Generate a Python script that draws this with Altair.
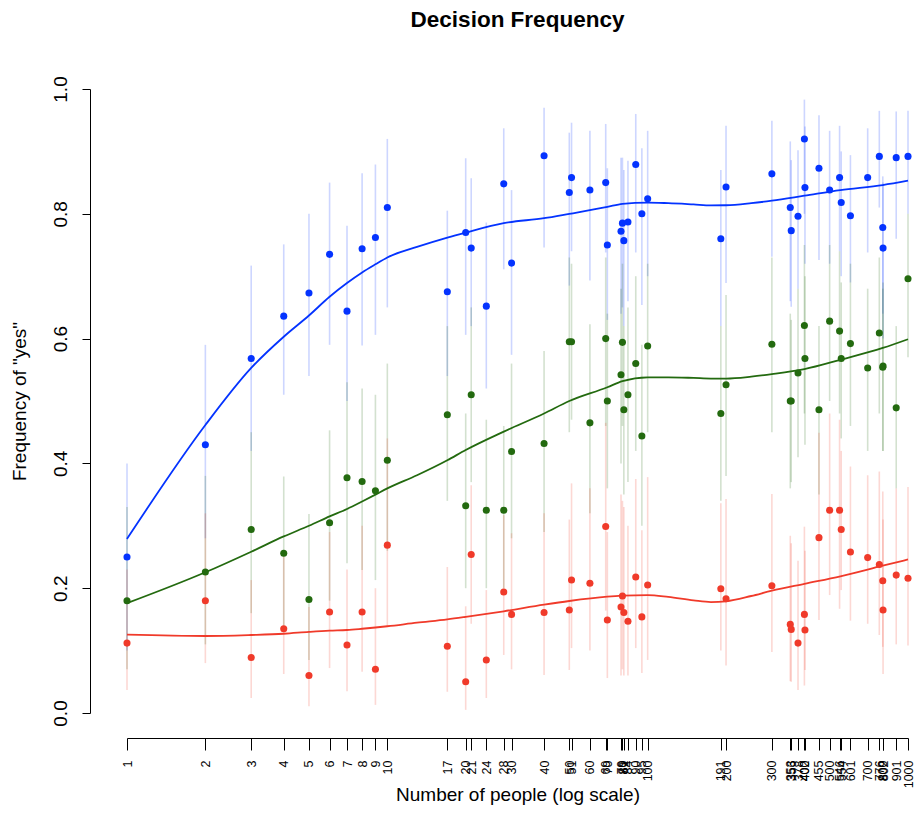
import altair as alt
import pandas as pd

# x values (number of people)
people = [1, 2, 3, 4, 5, 6, 7, 8, 9, 10,
          17, 20, 21, 24, 28, 30, 40,
          50, 51, 60, 69, 70,
          79, 80, 81, 84, 90, 95, 100,
          191, 200, 300,
          353, 356, 378, 400, 402,
          455, 500, 546, 554, 601,
          700, 776, 800, 802, 901, 1000]

blue_y = [0.25, 0.43, 0.568, 0.636, 0.673, 0.735, 0.644, 0.744, 0.762, 0.81,
          0.675, 0.770, 0.745, 0.652, 0.848, 0.721, 0.893,
          0.834, 0.858, 0.838, 0.850, 0.750,
          0.772, 0.785, 0.757, 0.787, 0.879, 0.800, 0.824,
          0.760, 0.843, 0.864,
          0.810, 0.773, 0.796, 0.920, 0.842,
          0.873, 0.838, 0.858, 0.818, 0.797,
          0.858, 0.892, 0.778, 0.745, 0.890, 0.892]
blue_lo = [0.10, 0.28, 0.42, 0.51, 0.54, 0.59, 0.50, 0.589, 0.606, 0.65,
           0.54, 0.606, 0.62, 0.52, 0.711, 0.574, 0.746,
           0.685, 0.74, 0.693, 0.738, 0.63,
           0.64, 0.65, 0.62, 0.66, 0.738, 0.654, 0.70,
           0.62, 0.689, 0.731,
           0.66, 0.651, 0.68, 0.80, 0.72,
           0.726, 0.72, 0.74, 0.70, 0.69,
           0.738, 0.81, 0.64, 0.60, 0.76, 0.80]
blue_hi = [0.40, 0.59, 0.717, 0.751, 0.80, 0.85, 0.781, 0.865, 0.879, 0.92,
           0.805, 0.889, 0.857, 0.786, 0.937, 0.838, 0.970,
           0.93, 0.946, 0.933, 0.944, 0.873,
           0.89, 0.89, 0.87, 0.885, 0.96, 0.905, 0.933,
           0.870, 0.941, 0.949,
           0.916, 0.886, 0.902, 0.983, 0.94,
           0.958, 0.933, 0.941, 0.90, 0.894,
           0.937, 0.965, 0.86, 0.85, 0.964, 0.965]

green_y = [0.18, 0.226, 0.294, 0.256, 0.182, 0.305, 0.377, 0.371, 0.356, 0.405,
           0.478, 0.332, 0.51, 0.325, 0.325, 0.419, 0.432,
           0.595, 0.595, 0.465, 0.600, 0.500,
           0.542, 0.594, 0.486, 0.510, 0.560, 0.444, 0.588,
           0.480, 0.526, 0.591,
           0.500, 0.500, 0.545, 0.621, 0.568,
           0.486, 0.628, 0.612, 0.568, 0.592,
           0.553, 0.609, 0.554, 0.556, 0.489, 0.696]
green_lo = [0.07, 0.11, 0.16, 0.14, 0.085, 0.18, 0.24, 0.229, 0.213, 0.26,
            0.34, 0.20, 0.37, 0.20, 0.20, 0.28, 0.29,
            0.45, 0.47, 0.32, 0.46, 0.36,
            0.40, 0.46, 0.35, 0.37, 0.42, 0.30, 0.45,
            0.34, 0.38, 0.45,
            0.36, 0.37, 0.41, 0.48, 0.43,
            0.35, 0.50, 0.48, 0.44, 0.46,
            0.42, 0.48, 0.42, 0.42, 0.36, 0.57]
green_hi = [0.33, 0.38, 0.45, 0.379, 0.319, 0.453, 0.53, 0.52, 0.51, 0.56,
            0.62, 0.48, 0.65, 0.47, 0.46, 0.56, 0.58,
            0.73, 0.72, 0.623, 0.73, 0.64,
            0.68, 0.72, 0.62, 0.65, 0.70, 0.59, 0.72,
            0.62, 0.67, 0.73,
            0.64, 0.63, 0.68, 0.75, 0.70,
            0.62, 0.75, 0.74, 0.69, 0.72,
            0.68, 0.73, 0.68, 0.69, 0.62, 0.80]

red_y = [0.112, 0.180, 0.089, 0.135, 0.060, 0.162, 0.109, 0.162, 0.070, 0.269,
         0.107, 0.05, 0.254, 0.085, 0.194, 0.158, 0.161,
         0.165, 0.213, 0.208, 0.299, 0.149,
         0.170, 0.1875, 0.161, 0.147, 0.218, 0.154, 0.205,
         0.199, 0.183, 0.204,
         0.142, 0.134, 0.112, 0.158, 0.133,
         0.281, 0.325, 0.325, 0.294, 0.258,
         0.249, 0.238, 0.212, 0.165, 0.221, 0.216]
red_lo = [0.037, 0.08, 0.024, 0.0625, 0.011, 0.072, 0.035, 0.066, 0.013, 0.138,
          0.034, 0.005, 0.143, 0.024, 0.093, 0.07, 0.061,
          0.069, 0.104, 0.10, 0.164, 0.056,
          0.06, 0.07, 0.06, 0.06, 0.104, 0.064, 0.085,
          0.10, 0.076, 0.0977,
          0.051, 0.05, 0.037, 0.044, 0.069,
          0.149, 0.189, 0.167, 0.197, 0.148,
          0.143, 0.125, 0.106, 0.0625, 0.11, 0.108]
red_hi = [0.23, 0.32, 0.213, 0.26, 0.17, 0.29, 0.23, 0.30, 0.20, 0.44,
          0.234, 0.171, 0.365, 0.197, 0.317, 0.288, 0.32,
          0.31, 0.368, 0.36, 0.465, 0.29,
          0.35, 0.34, 0.33, 0.30, 0.375, 0.293, 0.378,
          0.336, 0.343, 0.351,
          0.284, 0.272, 0.244, 0.2986, 0.26,
          0.449, 0.48, 0.47, 0.42, 0.395,
          0.381, 0.387, 0.355, 0.31, 0.36, 0.362]

# smoothed curves
fit_x = [1, 2, 3, 4, 5, 6, 7, 8, 9, 10, 13, 17, 20, 28, 40, 50, 70, 80, 100,
         120, 150, 175, 200, 250, 300, 400, 550, 800, 1000]
blue_fit = [0.279, 0.4615, 0.553, 0.603, 0.637, 0.667, 0.689, 0.706, 0.719, 0.730,
            0.747, 0.762, 0.770, 0.785, 0.793, 0.800, 0.811, 0.816, 0.818,
            0.817, 0.815, 0.8135, 0.8137, 0.817, 0.821, 0.829, 0.838, 0.846, 0.853]
green_fit = [0.176, 0.2255, 0.2585, 0.283, 0.300, 0.315, 0.327, 0.339, 0.350, 0.360,
             0.381, 0.405, 0.4215, 0.451, 0.480, 0.500, 0.522, 0.532, 0.538,
             0.538, 0.537, 0.536, 0.536, 0.539, 0.543, 0.551, 0.566, 0.585, 0.599]
red_fit = [0.1255, 0.1234, 0.125, 0.127, 0.130, 0.132, 0.133, 0.135, 0.137, 0.139,
           0.1447, 0.150, 0.154, 0.163, 0.1736, 0.1795, 0.1864, 0.188, 0.189,
           0.186, 0.1805, 0.1778, 0.179, 0.1875, 0.196, 0.207, 0.219, 0.236, 0.246]

series = ["blue", "green", "red"]
colors = ["#0433FF", "#236a0f", "#f03a2a"]

rows = []
for name, ys, lo, hi in [("blue", blue_y, blue_lo, blue_hi),
                         ("green", green_y, green_lo, green_hi),
                         ("red", red_y, red_lo, red_hi)]:
    for x, y, l, h in zip(people, ys, lo, hi):
        rows.append({"people": x, "series": name, "freq": y, "lo": l, "hi": h})
pts = pd.DataFrame(rows)

frows = []
for name, vals in [("blue", blue_fit), ("green", green_fit), ("red", red_fit)]:
    for x, v in zip(fit_x, vals):
        frows.append({"people": x, "series": name, "freq": v})
fits = pd.DataFrame(frows)

FONT = "Liberation Sans"
xscale = alt.Scale(type="log", domain=[1, 1000], nice=False)
yscale = alt.Scale(domain=[0, 1], nice=False, zero=False)
color = alt.Color("series:N", scale=alt.Scale(domain=series, range=colors), legend=None)

xaxis = alt.Axis(values=people, format="d", labelAngle=270, labelAlign="right",
                 labelBaseline="middle", labelOverlap=False, labelBound=False,
                 labelFlush=False, offset=25, tickSize=12, labelPadding=10,
                 labelFontSize=12.5, grid=False,
                 title="Number of people (log scale)", titleY=62,
                 titleBaseline="alphabetic", titleFontSize=19,
                 titleFontWeight="normal")
yaxis = alt.Axis(values=[0, 0.2, 0.4, 0.6, 0.8, 1.0], format=".1f", labelAngle=270,
                 labelAlign="center", labelBaseline="bottom", labelOverlap=False,
                 labelFlush=False, offset=37, tickSize=8, labelPadding=12,
                 labelFontSize=19, grid=False,
                 title='Frequency of "yes"', titleAngle=270, titleX=-65, titleY=312,
                 titleAlign="center", titleBaseline="alphabetic", titleFontSize=19,
                 titleFontWeight="normal")

rules = alt.Chart(pts).mark_rule(strokeWidth=1.6, opacity=0.2).encode(
    x=alt.X("people:Q", scale=xscale, axis=xaxis),
    y=alt.Y("lo:Q", scale=yscale, axis=yaxis),
    y2="hi:Q",
    color=color,
)
lines = alt.Chart(fits).mark_line(interpolate="monotone", strokeWidth=1.8).encode(
    x=alt.X("people:Q", scale=xscale, axis=xaxis),
    y=alt.Y("freq:Q", scale=yscale, axis=yaxis),
    color=color,
)
points = alt.Chart(pts).mark_circle(size=50, opacity=1).encode(
    x=alt.X("people:Q", scale=xscale, axis=xaxis),
    y=alt.Y("freq:Q", scale=yscale, axis=yaxis),
    color=color,
)

chart = alt.layer(rules, lines, points).properties(
    width=781, height=624,
    autosize=alt.AutoSizeParams(type="none"),
    padding={"left": 119, "top": 81, "right": 6, "bottom": 110},
    title=alt.TitleParams("Decision Frequency", fontSize=22.5, fontWeight="bold",
                          font=FONT, anchor="middle", frame="group",
                          baseline="alphabetic", offset=26, color="black"),
).configure_view(strokeWidth=0).configure_axis(
    domainColor="black", tickColor="black", labelColor="black", titleColor="black",
    labelFont=FONT, titleFont=FONT, domainWidth=1, tickWidth=1,
)

chart.save("out.html", embed_options={"renderer": "svg", "actions": False})
